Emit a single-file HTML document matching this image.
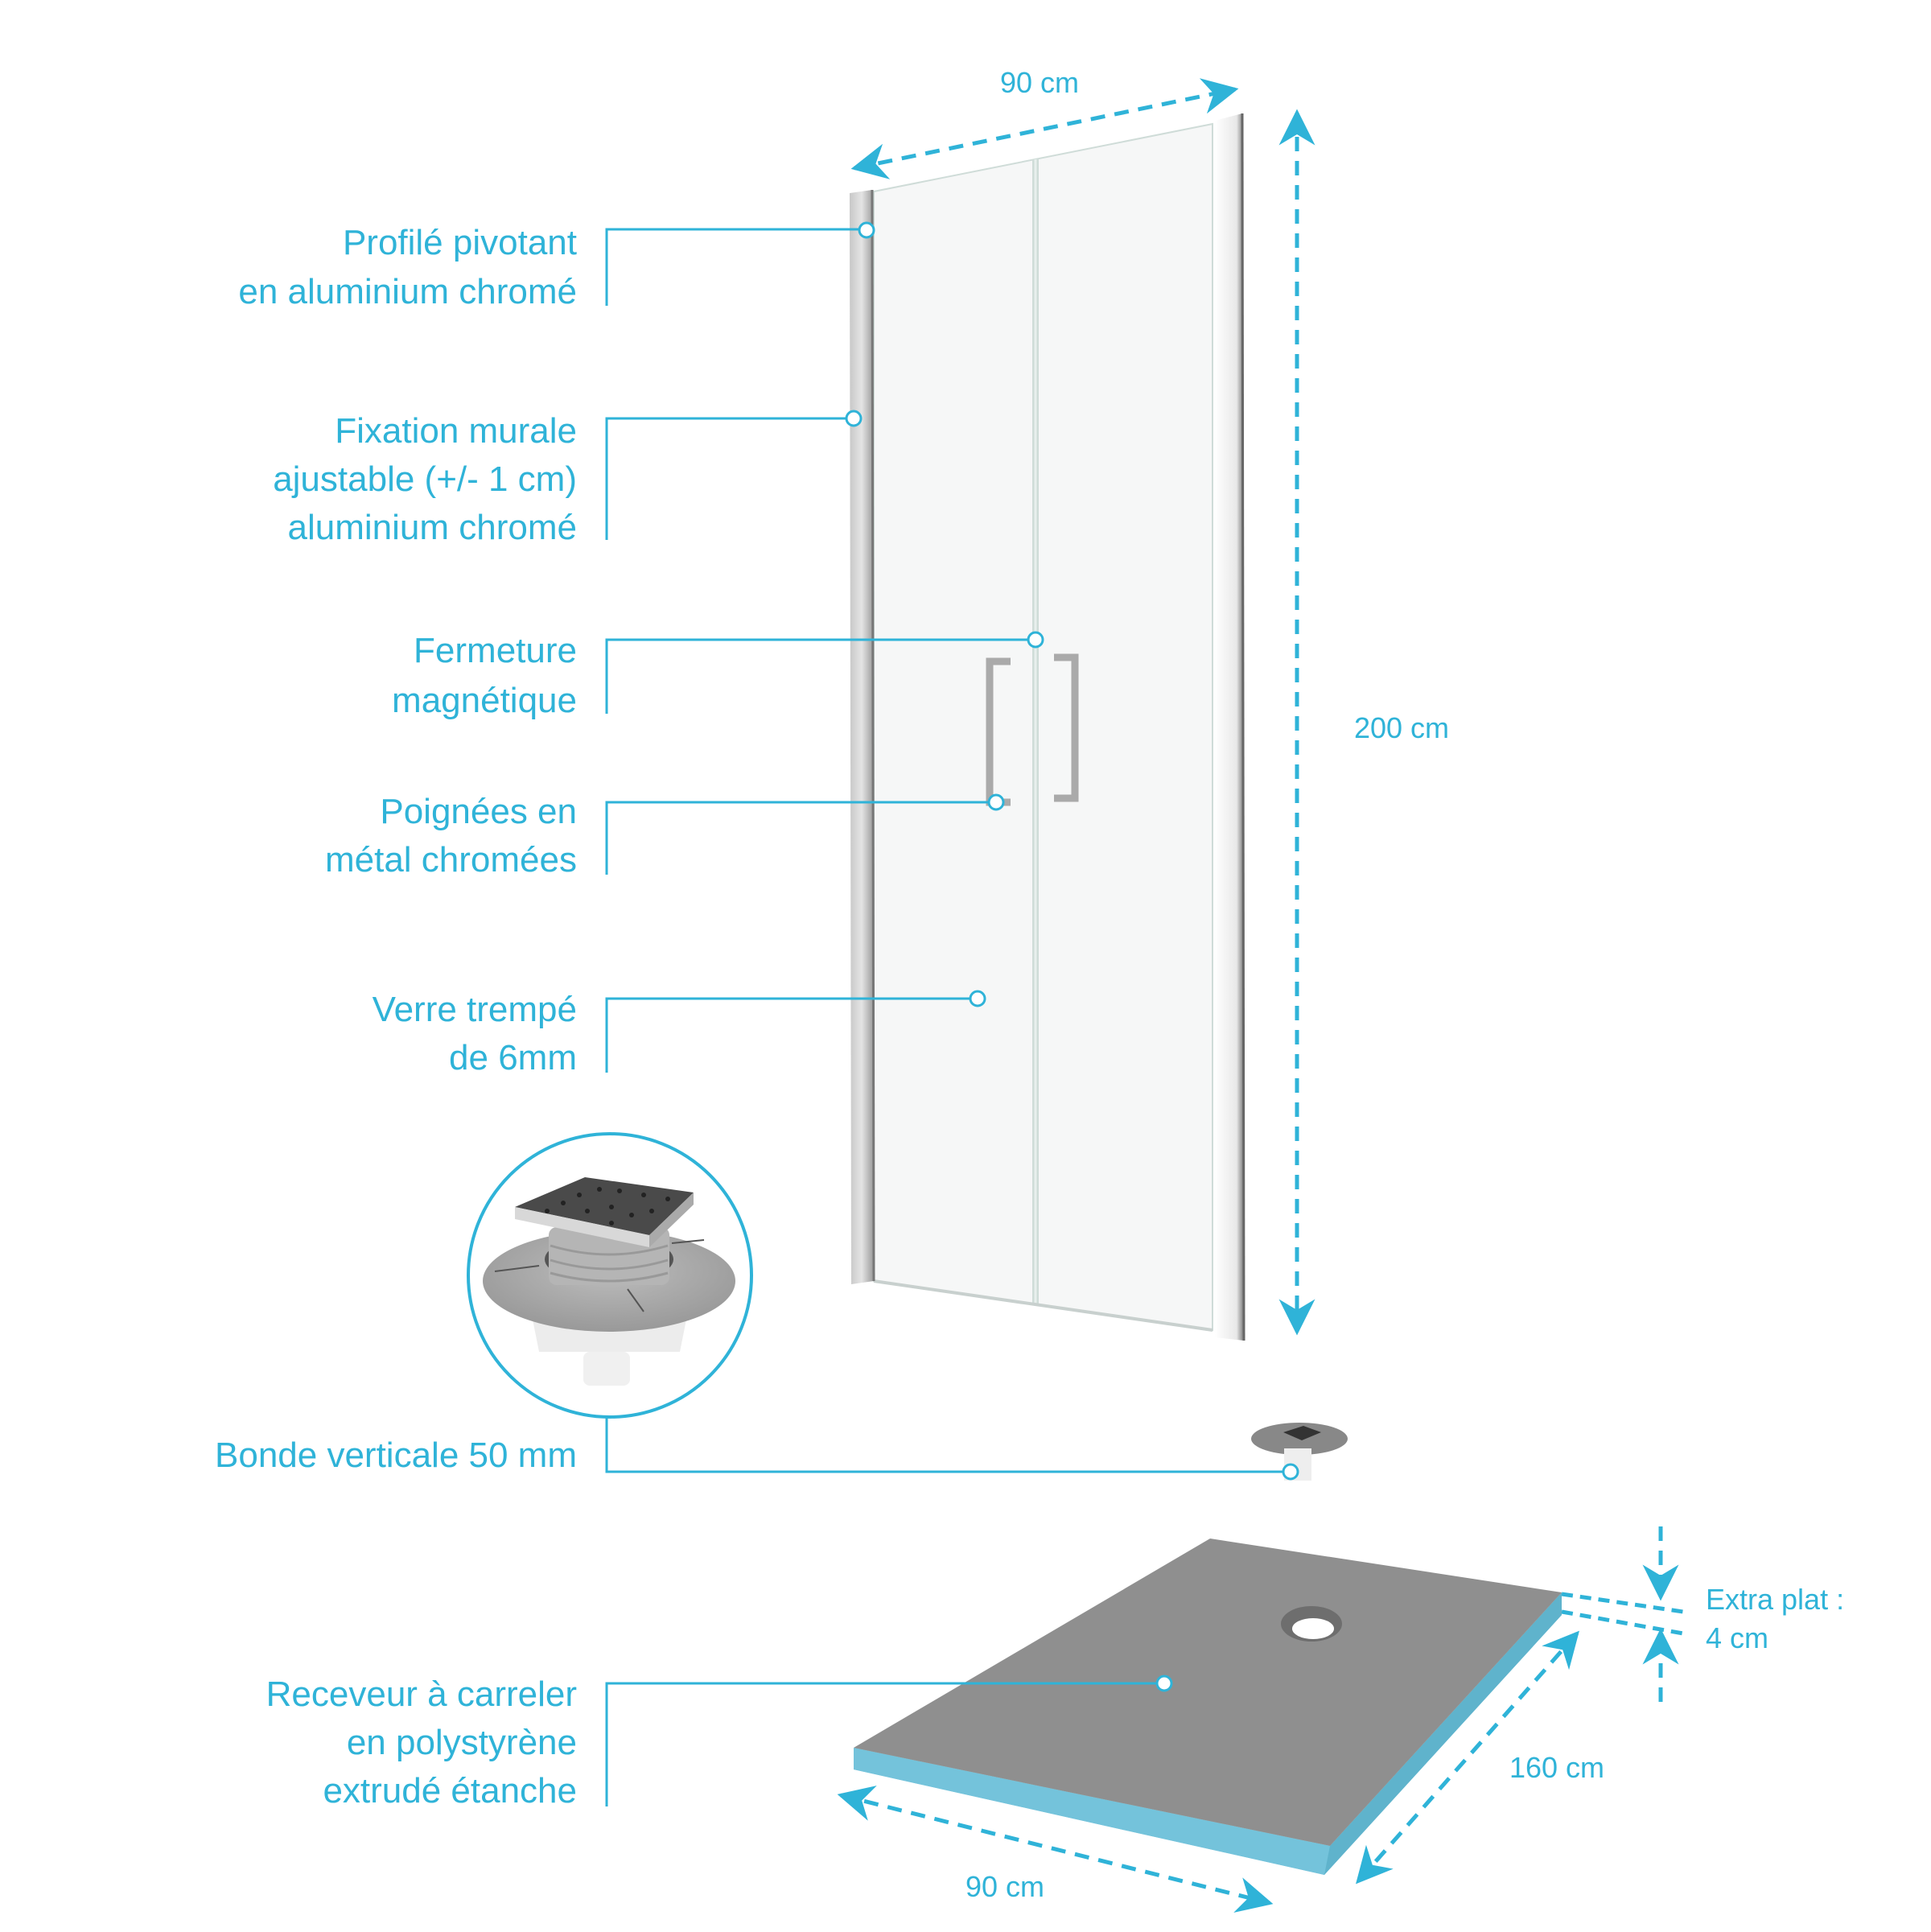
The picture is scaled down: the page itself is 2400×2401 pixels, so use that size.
<!DOCTYPE html>
<html><head><meta charset="utf-8"><style>
html,body{margin:0;padding:0;background:#fff}
svg{display:block}
text{font-family:"Liberation Sans Narrow","Liberation Sans",sans-serif;fill:#2fb3d8}
</style></head><body>
<svg width="2400" height="2401" viewBox="0 0 2400 2401" xmlns="http://www.w3.org/2000/svg">
<defs>
<linearGradient id="post" x1="0" x2="1"><stop offset="0" stop-color="#c8c8c8"/><stop offset="0.5" stop-color="#e4e4e4"/><stop offset="1" stop-color="#9a9a9a"/></linearGradient>
<linearGradient id="rpost" x1="0" x2="1"><stop offset="0" stop-color="#ffffff"/><stop offset="0.75" stop-color="#e8e8e8"/><stop offset="1" stop-color="#777"/></linearGradient>
<radialGradient id="disc" cx="0.5" cy="0.4" r="0.6"><stop offset="0" stop-color="#bdbdbd"/><stop offset="1" stop-color="#999"/></radialGradient>
<marker id="ah" viewBox="0 0 10 10" refX="9" refY="5" markerWidth="9" markerHeight="9" orient="auto-start-reverse"><path d="M0,0 L10,5 L0,10 L3,5 z" fill="#2fb3d8"/></marker>
</defs>

<!-- door glass -->
<polygon points="1086,238 1507,154 1507,1653 1086,1592" fill="#f6f7f7" stroke="#cfdcd8" stroke-width="2"/>
<line x1="1287" y1="198" x2="1287" y2="1622" stroke="#cfdcd8" stroke-width="8"/>
<line x1="1287" y1="198" x2="1287" y2="1622" stroke="#e8efed" stroke-width="3"/>
<line x1="1086" y1="1592" x2="1507" y2="1653" stroke="#c8d0ce" stroke-width="4"/>
<!-- left post -->
<polygon points="1056,240 1084,236 1086,1592 1058,1596" fill="url(#post)"/>
<line x1="1084" y1="236" x2="1086" y2="1592" stroke="#777" stroke-width="3"/>
<!-- right post -->
<polygon points="1510,150 1544,141 1546,1666 1510,1662" fill="url(#rpost)"/>
<line x1="1544" y1="141" x2="1546" y2="1666" stroke="#666" stroke-width="3"/>
<!-- handles -->
<path d="M1256,822 h-26 v175 h26" fill="none" stroke="#aaa" stroke-width="9"/>
<path d="M1310,817 h26 v175 h-26" fill="none" stroke="#aaa" stroke-width="9"/>

<!-- dimension arrows -->
<g stroke="#2fb3d8" stroke-width="5" stroke-dasharray="18,12" fill="none">
<line x1="1062" y1="209" x2="1535" y2="111" marker-start="url(#ah)" marker-end="url(#ah)"/>
<line x1="1612" y1="140" x2="1612" y2="1655" marker-start="url(#ah)" marker-end="url(#ah)"/>
<line x1="1045" y1="2231" x2="1578" y2="2365" marker-start="url(#ah)" marker-end="url(#ah)"/>
<line x1="1960" y1="2030" x2="1688" y2="2338" marker-start="url(#ah)" marker-end="url(#ah)"/>
<line x1="2064" y1="1897" x2="2064" y2="1985" marker-end="url(#ah)"/>
<line x1="2064" y1="2115" x2="2064" y2="2028" marker-end="url(#ah)"/>
<line x1="1941" y1="1981" x2="2092" y2="2003" stroke-dasharray="14,9"/>
<line x1="1941" y1="2003" x2="2092" y2="2030" stroke-dasharray="14,9"/>
</g>

<!-- tray -->
<polygon points="1061,2172 1061,2199 1646,2330 1941,2007 1941,1979 1653,2294" fill="#6fc0d8"/>
<polygon points="1061,2172 1653,2294 1646,2330 1061,2199" fill="#74c3db"/>
<polygon points="1653,2294 1941,1979 1941,2007 1646,2330" fill="#5fb3cc"/>
<polygon points="1061,2172 1504,1912 1941,1979 1653,2294" fill="#8f8f8f"/>
<ellipse cx="1630" cy="2018" rx="38" ry="22" fill="#6e6e6e"/>
<ellipse cx="1632" cy="2024" rx="26" ry="13" fill="#fff"/>

<!-- small drain -->
<ellipse cx="1615" cy="1788" rx="60" ry="20" fill="#888"/>
<polygon points="1595,1780 1620,1772 1642,1780 1618,1790" fill="#333"/>
<rect x="1596" y="1800" width="34" height="40" fill="#eee"/>

<!-- big drain in circle -->
<circle cx="758" cy="1585" r="176" fill="#fff" stroke="#2fb3d8" stroke-width="4"/>
<path d="M660,1630 L855,1630 L845,1680 L670,1680 z" fill="#ececec"/>
<rect x="725" y="1680" width="58" height="42" rx="8" fill="#f0f0f0"/>
<ellipse cx="757" cy="1592" rx="157" ry="63" fill="url(#disc)"/>
<ellipse cx="757" cy="1565" rx="80" ry="30" fill="#555"/>
<rect x="682" y="1525" width="150" height="72" rx="10" fill="#b5b5b5"/>
<g stroke="#999" stroke-width="3" fill="none"><path d="M684,1548 Q757,1570 830,1548"/><path d="M684,1566 Q757,1588 830,1566"/><path d="M684,1582 Q757,1602 830,1582"/></g>
<polygon points="640,1500 727,1463 862,1482 807,1535" fill="#4a4a4a"/>
<g fill="#222"><circle cx="700" cy="1495" r="3"/><circle cx="720" cy="1485" r="3"/><circle cx="745" cy="1478" r="3"/><circle cx="770" cy="1480" r="3"/><circle cx="800" cy="1485" r="3"/><circle cx="830" cy="1490" r="3"/><circle cx="760" cy="1500" r="3"/><circle cx="785" cy="1510" r="3"/><circle cx="730" cy="1505" r="3"/><circle cx="810" cy="1505" r="3"/><circle cx="680" cy="1505" r="3"/><circle cx="760" cy="1520" r="3"/></g>
<polygon points="640,1500 807,1535 807,1550 640,1515" fill="#d8d8d8"/>
<polygon points="807,1535 862,1482 862,1497 807,1550" fill="#aaa"/>
<g stroke="#555" stroke-width="2"><line x1="615" y1="1580" x2="670" y2="1573"/><line x1="835" y1="1545" x2="875" y2="1541"/><line x1="780" y1="1602" x2="800" y2="1630"/></g>

<!-- leader lines -->
<g stroke="#2fb3d8" stroke-width="3" fill="none">
<path d="M754,380 V285 H1077"/>
<path d="M754,671 V520 H1061"/>
<path d="M754,887 V795 H1287"/>
<path d="M754,1087 V997 H1238"/>
<path d="M754,1333 V1241 H1215"/>
<path d="M754,1760 V1829 H1604"/>
<path d="M754,2245 V2092 H1447"/>
</g>
<g fill="#fff" stroke="#2fb3d8" stroke-width="3">
<circle cx="1077" cy="286" r="9"/><circle cx="1061" cy="520" r="9"/><circle cx="1287" cy="795" r="9"/>
<circle cx="1238" cy="997" r="9"/><circle cx="1215" cy="1241" r="9"/><circle cx="1604" cy="1829" r="9"/>
<circle cx="1447" cy="2092" r="9"/>
</g>

<!-- labels -->
<g font-size="44" text-anchor="end">
<text x="717" y="316">Profilé pivotant</text>
<text x="717" y="377">en aluminium chromé</text>
<text x="717" y="550">Fixation murale</text>
<text x="717" y="610">ajustable (+/- 1 cm)</text>
<text x="717" y="670">aluminium chromé</text>
<text x="717" y="823">Fermeture</text>
<text x="717" y="885">magnétique</text>
<text x="717" y="1023">Poignées en</text>
<text x="717" y="1083">métal chromées</text>
<text x="717" y="1269">Verre trempé</text>
<text x="717" y="1329">de 6mm</text>
<text x="717" y="1823">Bonde verticale 50 mm</text>
<text x="717" y="2120">Receveur à carreler</text>
<text x="717" y="2180">en polystyrène</text>
<text x="717" y="2240">extrudé étanche</text>
</g>
<g font-size="36">
<text x="1292" y="115" text-anchor="middle">90 cm</text>
<text x="1742" y="917" text-anchor="middle">200 cm</text>
<text x="1249" y="2357" text-anchor="middle">90 cm</text>
<text x="1935" y="2209" text-anchor="middle">160 cm</text>
<text x="2120" y="2000">Extra plat :</text>
<text x="2120" y="2048">4 cm</text>
</g>
</svg>
</body></html>
